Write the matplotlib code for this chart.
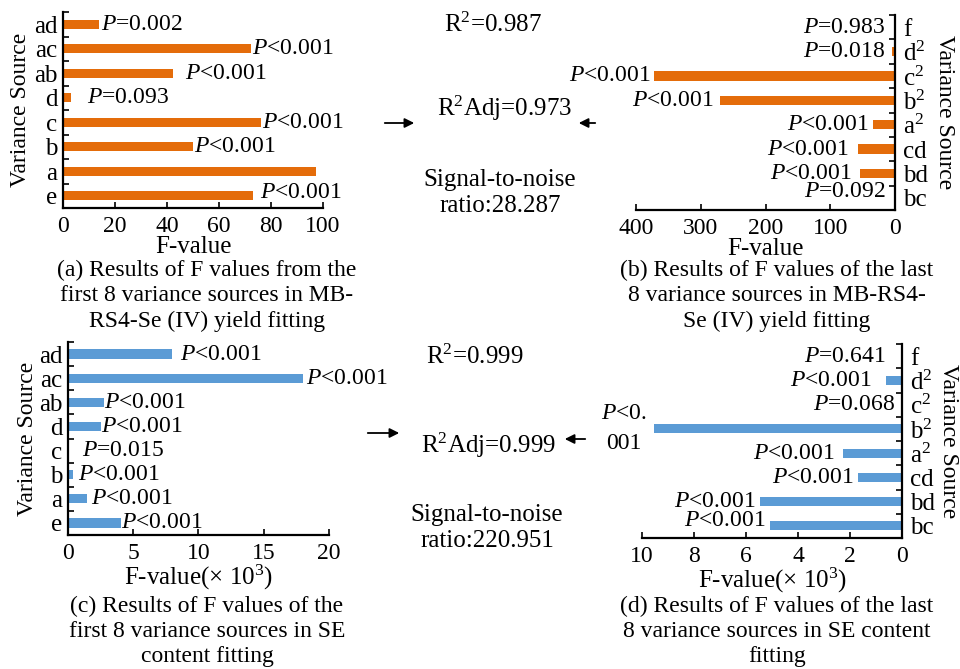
import matplotlib
matplotlib.use("Agg")
import matplotlib.pyplot as plt
import numpy as np

plt.rcParams['font.family'] = ['Liberation Serif', 'DejaVu Serif']
plt.rcParams['mathtext.fontset'] = 'custom'
plt.rcParams['mathtext.rm'] = 'Liberation Serif'
plt.rcParams['mathtext.it'] = 'Liberation Serif:italic'
plt.rcParams['font.size'] = 17

ORANGE = "#E46C0A"
BLUE = "#5B9BD5"

# (a) first 8 sources, MB-RS4-Se(IV) yield, bottom -> top
cats_a = ["e", "a", "b", "c", "d", "ab", "ac", "ad"]
f_a = [73.1, 97.3, 50.0, 76.2, 3.1, 42.3, 72.3, 14.0]
p_a = ["$P$<0.001", "", "$P$<0.001", "$P$<0.001", "$P$=0.093", "$P$<0.001", "$P$<0.001", "$P$=0.002"]
px_a = [75.9, 0, 50.2, 76.5, 9.2, 47.0, 72.5, 14.5]

# (b) last 8 sources, MB-RS4-Se(IV) yield, bottom -> top
cats_b = ["bc", "bd", "cd", "a$^2$", "b$^2$", "c$^2$", "d$^2$", "f"]
f_b = [2.0, 54.0, 57.7, 33.5, 271.0, 371.7, 5.0, 0.0]
p_b = ["$P$=0.092", "$P$<0.001", "$P$<0.001", "$P$<0.001", "$P$<0.001", "$P$<0.001", "$P$=0.018", "$P$=0.983"]
px_b = [15, 67, 72, 41, 280, 378, 15, 15]

# (c) first 8 sources, SE content (x 10^3)
cats_c = ["e", "a", "b", "c", "d", "ab", "ac", "ad"]
f_c = [4.06, 1.45, 0.38, 0.02, 2.53, 2.78, 18.0, 7.96]
p_c = ["$P$<0.001", "$P$<0.001", "$P$<0.001", "$P$=0.015", "$P$<0.001", "$P$<0.001", "$P$<0.001", "$P$<0.001"]
px_c = [4.05, 1.75, 0.8, 1.07, 2.5, 2.75, 18.2, 8.6]

# (d) last 8 sources, SE content (x 10^3)
cats_d = ["bc", "bd", "cd", "a$^2$", "b$^2$", "c$^2$", "d$^2$", "f"]
f_d = [5.06, 5.45, 1.70, 2.28, 9.53, 0.0, 0.60, 0.0]
p_d = ["$P$<0.001", "$P$<0.001", "$P$<0.001", "$P$<0.001", "$P$<0.\n001", "$P$=0.068", "$P$<0.001", "$P$=0.641"]
px_d = [5.26, 5.64, 1.86, 2.6, 10.7, 0.26, 1.15, 0.64]

captions = [
    "(a) Results of F values from the\nfirst 8 variance sources in MB-\nRS4-Se (IV) yield fitting",
    "(b) Results of F values of the last\n8 variance sources in MB-RS4-\nSe (IV) yield fitting",
    "(c) Results of F values of the\nfirst 8 variance sources in SE\ncontent fitting",
    "(d) Results of F values of the last\n8 variance sources in SE content\nfitting",
]
stats_top = ["R$^2$=0.987", "R$^2$Adj=0.973", "Signal-to-noise\nratio:28.287"]
stats_bot = ["R$^2$=0.999", "R$^2$Adj=0.999", "Signal-to-noise\nratio:220.951"]

fig = plt.figure(figsize=(9.6, 6.69), dpi=100)


def panel(rect, cats, vals, plabs, pxs, color, xmax, ticks, xlabel, right=False,
          first_dy=0.0, ylabel_x=-0.16):
    ax = fig.add_axes(rect)
    y = np.arange(len(cats))
    ax.barh(y, vals, height=0.38, color=color)
    ax.set_ylim(-0.5, len(cats) - 0.5)
    ax.set_yticks(y)
    ax.set_yticklabels(cats, fontsize=18)
    ax.set_yticks(np.arange(-0.5, len(cats), 1.0), minor=True)
    ax.set_xticks(ticks)
    ax.set_xticklabels([str(t) for t in ticks], fontsize=17)
    ax.set_xlabel(xlabel, labelpad=-1, fontsize=18)
    ax.tick_params(axis='y', which='minor', length=4, direction='in', width=1.2)
    ax.tick_params(axis='x', length=4, direction='in', width=1.2, pad=6)
    for s in ax.spines.values():
        s.set_linewidth(1.6)
    ax.spines['top'].set_visible(False)
    if right:
        ax.set_xlim(xmax, 0)
        ax.spines['left'].set_visible(False)
        ax.yaxis.tick_right()
        ax.yaxis.set_label_position('right')
        ax.tick_params(axis='y', which='major', length=0, pad=6)
        ax.set_ylabel("Variance Source", rotation=270, ha='center', va='center')
        ha = 'right'
    else:
        ax.set_xlim(0, xmax)
        ax.spines['right'].set_visible(False)
        ax.tick_params(axis='y', which='major', length=0, pad=4)
        ax.set_ylabel("Variance Source", rotation=90, ha='center', va='center')
        ha = 'left'
    ax.yaxis.set_label_coords(ylabel_x, 0.5)
    for i, (lab, px) in enumerate(zip(plabs, pxs)):
        if not lab:
            continue
        dy = first_dy if i == 0 else 0
        if "\n" in lab:
            ax.text(px, i, lab, ha='center', va='center', linespacing=1.55, clip_on=False)
        else:
            ax.text(px, i + dy, lab, ha=ha, va='center', clip_on=False)
    return ax


panel([63 / 960, 1 - 208 / 669, 260 / 960, 196 / 669], cats_a, f_a, p_a, px_a,
      ORANGE, 100, [0, 20, 40, 60, 80, 100], "F-value", first_dy=0.14, ylabel_x=-0.162)
panel([636 / 960, 1 - 210 / 669, 259 / 960, 195 / 669], cats_b, f_b, p_b, px_b,
      ORANGE, 400, [400, 300, 200, 100, 0], "F-value", right=True, first_dy=0.25,
      ylabel_x=1.193)
panel([68 / 960, 1 - 535 / 669, 261 / 960, 193 / 669], cats_c, f_c, p_c, px_c,
      BLUE, 20, [0, 5, 10, 15, 20], "F-value(\u00d7 10$^3$)", ylabel_x=-0.157)
panel([642 / 960, 1 - 538 / 669, 260 / 960, 194 / 669], cats_d, f_d, p_d, px_d,
      BLUE, 10, [10, 8, 6, 4, 2, 0], "F-value(\u00d7 10$^3$)", right=True, first_dy=0.22,
      ylabel_x=1.177)

# captions
for (cx, cy), cap in zip([(207, 296), (777, 296), (207, 631), (777, 631)], captions):
    fig.text(cx / 960, 1 - cy / 669, cap, ha='center', va='center', linespacing=1.25)

# middle statistics and arrows
for stats, ys, xs, ay, arr in [
    (stats_top, (25, 108, 193), (493, 505, 500), (123, 123), (382, 417, 598, 576)),
    (stats_bot, (357, 445, 528), (475, 488, 487), (433, 439), (365, 402, 588, 562)),
]:
    for s, yy, xx in zip(stats, ys, xs):
        fig.text(xx / 960, 1 - yy / 669, s, ha='center', va='center', linespacing=1.2, fontsize=18)
    fig.add_artist(matplotlib.patches.FancyArrowPatch(
        (arr[0] / 960, 1 - ay[0] / 669), (arr[1] / 960, 1 - ay[0] / 669),
        transform=fig.transFigure, arrowstyle='-|>', mutation_scale=14, color='black', lw=1.3))
    fig.add_artist(matplotlib.patches.FancyArrowPatch(
        (arr[2] / 960, 1 - ay[1] / 669), (arr[3] / 960, 1 - ay[1] / 669),
        transform=fig.transFigure, arrowstyle='-|>', mutation_scale=14, color='black', lw=1.3))

fig.savefig("out.png", dpi=100)
